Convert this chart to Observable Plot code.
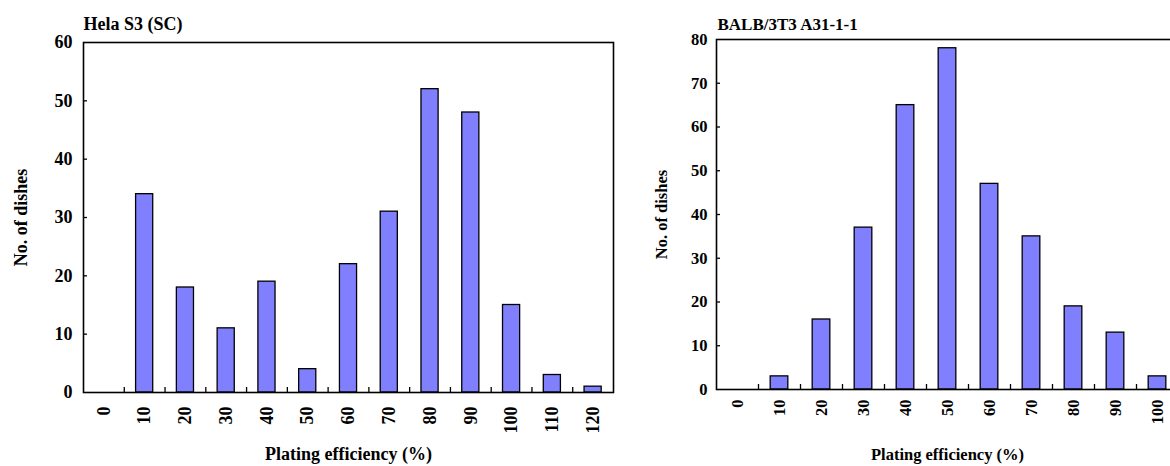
<!DOCTYPE html>
<html><head><meta charset="utf-8">
<script src="https://cdn.jsdelivr.net/npm/d3@7"></script>
<script src="https://cdn.jsdelivr.net/npm/@observablehq/plot@0.6"></script>
<style>
html,body{margin:0;padding:0;background:#fff;}
body{width:1170px;height:466px;overflow:hidden;position:relative;font-family:"Liberation Serif",serif;}
.panel{position:absolute;top:0;}
.panel svg{max-width:none !important;}
</style></head><body>
<div id="left" class="panel" style="left:0px;width:620px"></div>
<div id="right" class="panel" style="left:620px;width:563px"></div>
<script>
// Left chart: Hela S3 (SC)
const helaTitle = "Hela S3 (SC)";
const helaCategories = ["0","10","20","30","40","50","60","70","80","90","100","110","120"];
const helaDishes = [0,34,18,11,19,4,22,31,52,48,15,3,1];
const helaYTicks = [0,10,20,30,40,50,60];

// Right chart: BALB/3T3 A31-1-1
const balbTitle = "BALB/3T3 A31-1-1";
const balbCategories = ["0","10","20","30","40","50","60","70","80","90","100"];
const balbDishes = [0,3,16,37,65,78,47,35,19,13,3];
const balbYTicks = [0,10,20,30,40,50,60,70,80];

const xTitle = "Plating efficiency (%)";
const yTitle = "No. of dishes";

function panel(o) {
  const step = (o.width - o.ml - o.mr) / o.cats.length;
  const ph = 466 - o.mt - o.mb;
  const pw = o.width - o.ml - o.mr;
  const data = o.cats.map((c, i) => ({c, v: o.vals[i]}));
  return Plot.plot({
    width: o.width, height: 466,
    marginLeft: o.ml, marginRight: o.mr, marginTop: o.mt, marginBottom: o.mb,
    style: {fontFamily: "'Liberation Serif', serif", fontWeight: "bold", fontSize: o.fs + "px", background: "white", overflow: "visible", color: "#000", maxWidth: "none"},
    x: {type: "band", domain: o.cats, paddingInner: 0.58, paddingOuter: 0.29, round: false, axis: null},
    y: {domain: [0, o.yMax], axis: null},
    marks: [
      Plot.barY(data, {x: "c", y: "v", fill: "#8080FF", stroke: "#000", strokeWidth: 1.3}),
      Plot.ruleX(o.cats.slice(1), {x: d => d, dx: -step / 2, insetTop: ph - 5, stroke: "#000", strokeWidth: 1.3}),
      Plot.ruleY(o.yTicks.slice(1, -1), {y: d => d, insetRight: pw - 4, stroke: "#000", strokeWidth: 1.3}),
      Plot.frame({stroke: "#000", strokeWidth: 1.6}),
      Plot.text(o.yTicks, {y: d => d, text: d => String(d), frameAnchor: "left", textAnchor: "end", dx: -o.yGap, lineAnchor: "middle", fill: "#000"}),
      Plot.text(o.cats, {x: d => d, text: d => d, frameAnchor: "bottom", rotate: -90, textAnchor: "end", lineAnchor: "middle", dy: o.tickGap, fill: "#000"}),
      Plot.text([o.title], {frameAnchor: "top-left", textAnchor: "start", lineAnchor: "middle", dy: o.titleDy, dx: o.titleDx, fontSize: o.tfs, fill: "#000"}),
      Plot.text([yTitle], {frameAnchor: "left", rotate: -90, textAnchor: "middle", lineAnchor: "middle", dx: o.ylabDx, fill: "#000"}),
      Plot.text([xTitle], {frameAnchor: "bottom", textAnchor: "middle", lineAnchor: "middle", dy: o.xlabDy, fill: "#000"})
    ]
  });
}

document.getElementById("left").appendChild(panel({
  cats: helaCategories, vals: helaDishes, yTicks: helaYTicks, yMax: 60, title: helaTitle,
  width: 620, ml: 83, mr: 7, mt: 42, mb: 74, fs: 18, tfs: 18,
  yGap: 11, tickGap: 14, titleDy: -18, titleDx: 0, ylabDx: -62, xlabDy: 62
}));
document.getElementById("right").appendChild(panel({
  cats: balbCategories, vals: balbDishes, yTicks: balbYTicks, yMax: 80, title: balbTitle,
  width: 563, ml: 96, mr: 5, mt: 39, mb: 77, fs: 16.5, tfs: 17,
  yGap: 9, tickGap: 10, titleDy: -15, titleDx: 1, ylabDx: -55, xlabDy: 65
}));
</script>
</body></html>
